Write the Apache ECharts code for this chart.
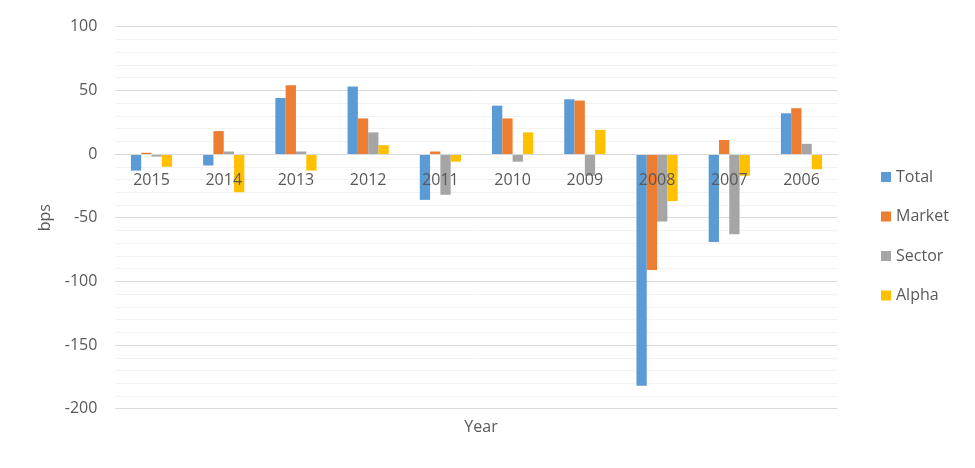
<!DOCTYPE html>
<html><head><meta charset="utf-8">
<script src="https://cdn.jsdelivr.net/npm/echarts@6/dist/echarts.min.js"></script>
<style>html,body{margin:0;padding:0;background:#fff}#c{width:975px;height:468px}</style>
</head><body><div id="c"></div>
<script>
var years = ['2015','2014','2013','2012','2011','2010','2009','2008','2007','2006'];
var total  = [-13, -9, 44, 53, -36, 38, 43, -182, -69, 32];
var market = [1, 18, 54, 28, 2, 28, 42, -91, 11, 36];
var sector = [-2, 2, 2, 17, -32, -6, -17, -53, -63, 8];
var alpha  = [-10, -30, -13, 7, -6, 17, 19, -37, -17, -12];
var yTicks = [-200, -150, -100, -50, 0, 50, 100];

var font = 'Open Sans';
var txt = '#595959';
var gridTop = 26.7, gridBottomY = 408.7;
var yMin = yTicks[0], yMax = yTicks[yTicks.length-1];
// distance from plot bottom to the zero line, derived from the axis range
var zeroOffset = (gridBottomY - gridTop) * (0 - yMin) / (yMax - yMin);
function bar(name, data, color) {
  return {name: name, type: 'bar', data: data, barWidth: 10.3, barGap: '0%',
          itemStyle: {color: color}, z: 2};
}
var chart = echarts.init(document.getElementById('c'));
chart.setOption({
  animation: false,
  textStyle: {fontFamily: font},
  title: {text: 'Year', left: 476, top: 414, textAlign: 'center',
          textStyle: {fontFamily: font, fontSize: 16, fontWeight: 'normal', color: txt}},
  legend: {orient: 'vertical', left: 876, top: 162, itemWidth: 10, itemHeight: 10,
           itemGap: 19.5, icon: 'rect', data: ['Total','Market','Sector','Alpha'],
           textStyle: {fontFamily: font, fontSize: 16, color: txt, lineHeight: 20, padding: [0,0,0,0]}},
  grid: {left: 115.4, right: 975 - 837.6, top: gridTop, bottom: 468 - gridBottomY, containLabel: false},
  xAxis: {type: 'category', data: years, z: 5, offset: -zeroOffset,
          axisLine: {onZero: false, lineStyle: {color: '#d9d9d9', width: 1}},
          axisTick: {show: false},
          axisLabel: {margin: 18, fontFamily: font, fontSize: 16, color: txt}},
  yAxis: {type: 'value', min: yMin, max: yMax, interval: 50,
          name: 'bps', nameLocation: 'middle', nameGap: 62,
          nameTextStyle: {fontFamily: font, fontSize: 16, color: txt},
          axisLine: {show: false}, axisTick: {show: false},
          axisLabel: {margin: 18, fontFamily: font, fontSize: 16, color: txt},
          splitLine: {lineStyle: {color: '#d9d9d9', width: 1}},
          minorTick: {show: false, splitNumber: 5},
          minorSplitLine: {show: true, lineStyle: {color: '#f2f2f2', width: 1}}},
  series: [
    bar('Total', total, '#5b9bd5'),
    bar('Market', market, '#ed7d31'),
    bar('Sector', sector, '#a5a5a5'),
    bar('Alpha', alpha, '#ffc000')
  ]
});
</script></body></html>
